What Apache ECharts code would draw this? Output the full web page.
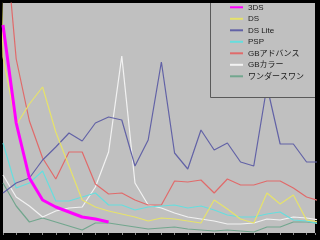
<!DOCTYPE html>
<html><head><meta charset="utf-8">
<script src="https://cdn.jsdelivr.net/npm/echarts@6/dist/echarts.min.js"></script>
<style>html,body{margin:0;padding:0;background:#000}#c{width:320px;height:240px}</style>
</head><body><div id="c"></div>
<script>
const periods = [-1,0,1,2,3,4,5,6,7,8,9,10,11,12,13,14,15,16,17,18,19,20,21,22,23,24];
const seriesNames = ['3DS','DS','DS Lite','PSP','GBアドバンス','GBカラー','ワンダースワン'];
const v3DS = [null,208,110,55,33,26,21,16,14,11];
const vDS = [700,176,108,129,146,101,67,33,26,22,19,16,12,15,14,12,10,33,24,14,10,40,29,38,13,11];
const vDSLite = [null,40,50,55,73,86,100,92,110,116,113,67,93,171,80,64,103,83,90,71,67,147,89,89,71,71];
const vPSP = [null,90,45,50,62,32,32,36,40,28,28,23,26,27,28,25,27,23,18,16,16,19,21,13,12,9];
const vGBA = [null,323,174,112,75,54,81,81,49,39,40,33,28,28,52,51,53,40,54,48,48,52,52,45,36,32];
const vGBC = [null,58,36,27,16,22,25,26,46,81,177,50,28,25,20,16,14,12,9,9,10,14,13,16,15,13];
const vWS = [null,50,27,11,15,11,7,3,10,10,8,6,4,5,6,4,3,2,3,2,1,6,6,11,11,10];
const seriesValues = [v3DS, vDS, vDSLite, vPSP, vGBA, vGBC, vWS];
const colors = ['#ff00ff','#e6e26a','#6262a6','#66dede','#e06a6a','#f2f2f2','#72a68e'];
const widths = [3,1.2,1.2,1.2,1.2,1.2,1.2];

const chart = echarts.init(document.getElementById('c'), null, {renderer:'canvas'});
const series = seriesNames.map((n, si) => ({
  name: n, type: 'line', symbol: 'none', clip: true, animation: false,
  z: 10 - si, connectNulls: false,
  lineStyle: {color: colors[si], width: widths[si]},
  itemStyle: {color: colors[si]},
  data: seriesValues[si].map((v, i) => [periods[i], v])
}));
series.push(series.shift());
chart.setOption({
  backgroundColor: '#000',
  animation: false,
  grid: {left: 3, right: 5, top: 3, bottom: 7, show: true, backgroundColor: '#c0c0c0', borderWidth: 0},
  xAxis: {type: 'value', min: 0, max: 23.64, interval: 1,
    axisLine: {show: false}, axisLabel: {show: false}, splitLine: {show: false},
    axisTick: {show: true, length: 2, lineStyle: {color: '#8c8c8c', width: 1}}},
  yAxis: {type: 'value', min: 0, max: 230, show: false},
  graphic: [
    {type: 'rect', z: 20, shape: {x: 210.5, y: 3, width: 104.5, height: 94.5}, style: {fill: '#c0c0c0'}},
    {type: 'polyline', z: 21, shape: {points: [[210.5, 3], [210.5, 97.5], [315, 97.5]]}, style: {stroke: '#5a5a5a', lineWidth: 1, fill: null}}
  ],
  legend: {
    orient: 'vertical', left: 229, top: 3.3, padding: 0, z: 30,
    itemWidth: 13, itemHeight: 10, itemGap: 3.5,
    itemStyle: {opacity: 0},
    data: seriesNames,
    textStyle: {fontSize: 8, color: '#1a1a1a', fontFamily: 'Liberation Sans, Noto Sans CJK JP'}
  },
  series: series
});
</script></body></html>
